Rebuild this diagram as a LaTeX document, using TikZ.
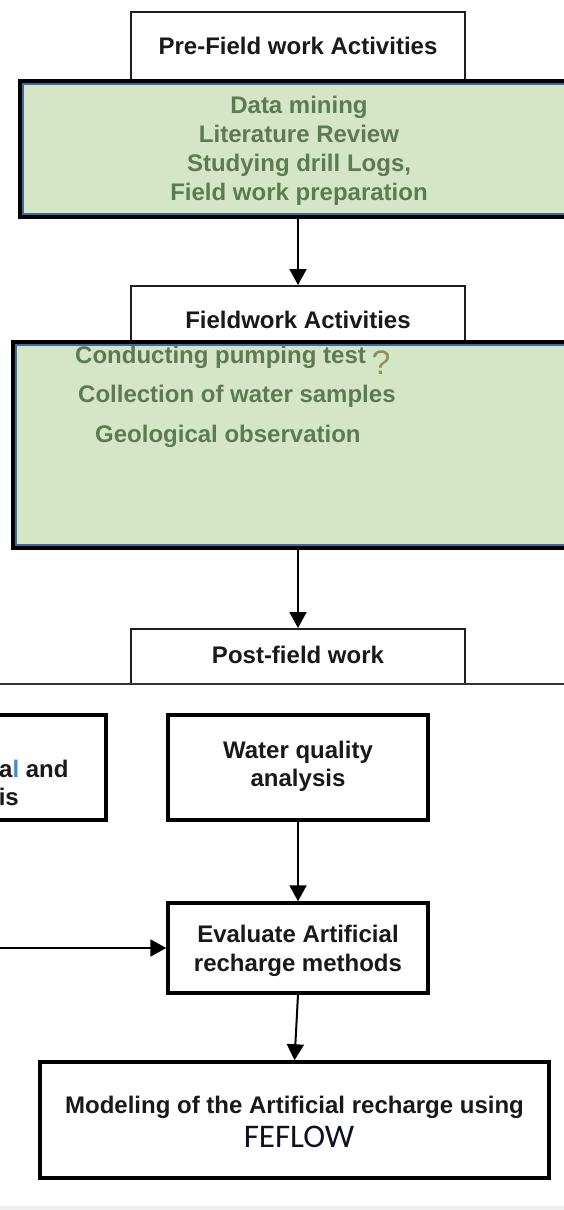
\documentclass[tikz,border=0pt]{standalone}
\usepackage{fontspec}
\setmainfont{Liberation Sans}
\newfontfamily\calibrifont{Carlito}
\usetikzlibrary{arrows.meta}
\definecolor{gfill}{HTML}{D5E6C7}
\definecolor{gtext}{HTML}{5E7A50}
\definecolor{gblue}{HTML}{3F6A9E}
\definecolor{qmark}{HTML}{8E915C}
\definecolor{cursorblue}{HTML}{3D8BD9}
\definecolor{feflowc}{HTML}{101024}
\begin{document}
\begin{tikzpicture}[x=1pt,y=-1pt,
  wbox/.style={draw=black!88, line width=2pt, fill=white, inner sep=0pt, rectangle},
  bbox/.style={draw=black, line width=3.5pt, fill=white, inner sep=0pt, rectangle},
  gbox/.style={draw=black, line width=3.5pt, fill=gfill, inner sep=0pt, rectangle},
  ginner/.style={draw=gblue, line width=2.4pt, inner sep=0pt, rectangle},
  lbl/.style={font=\fontsize{24}{28}\selectfont\bfseries, text=black!90, inner sep=0pt, anchor=base},
  glbl/.style={lbl, text=gtext},
  arr/.style={draw=black, line width=2pt, -{Triangle[width=17pt,length=16pt]}},
]
\useasboundingbox (0,0) rectangle (564,1210);
\fill[white] (0,0) rectangle (564,1210);
\fill[black!6] (0,1206) rectangle (564,1210);

% Pre-field
\node[wbox, minimum width=334pt, minimum height=70pt] (pre) at (298,47) {};
\node[lbl] (preT) at (298,54) {Pre-Field work Activities};
\node[gbox, minimum width=560pt, minimum height=136pt] (g1) at (300,149) {};
\node[ginner, minimum width=554pt, minimum height=130pt] (g1in) at (300,149) {};
\node[glbl] (g1a) at (299,113) {Data mining};
\node[glbl] (g1b) at (299,142) {Literature Review};
\node[glbl] (g1c) at (299,171) {Studying drill Logs,};
\node[glbl] (g1d) at (299,200) {Field work preparation};

% Fieldwork
\node[wbox, minimum width=334pt, minimum height=58pt] (fw) at (298,315) {};
\node[lbl] (fwT) at (298,328) {Fieldwork Activities};
\node[gbox, minimum width=567pt, minimum height=206pt] (g2) at (296.5,445) {};
\node[ginner, minimum width=561pt, minimum height=200pt] (g2in) at (296.5,445) {};
\node[glbl, anchor=base west] (g2a) at (75,363) {Conducting pumping test};
\node[font=\fontsize{34}{34}\selectfont, text=qmark, inner sep=0pt, anchor=base] (qm) at (381,374) {?};
\node[glbl, anchor=base west] (g2b) at (78,402) {Collection of water samples};
\node[glbl, anchor=base west] (g2c) at (95,442) {Geological observation};

% Post-field
\node[wbox, minimum width=334pt, minimum height=55pt] (post) at (298,656.5) {};
\node[lbl] (postT) at (298,663) {Post-field work};
\coordinate (hlL) at (0,684);
\coordinate (hlR) at (564,684);
\draw[black!80, line width=1.6pt] (hlL) -- (hlR);

% second row
\node[bbox, minimum width=126pt, minimum height=105pt] (left) at (43,767.5) {};
\node[lbl, anchor=base west] (leftA) at (-1,777) {a\textcolor{cursorblue}{l} and};
\node[lbl, anchor=base east] (leftB) at (19,805) {is};
\node[bbox, minimum width=260pt, minimum height=105pt] (wq) at (298,767.5) {};
\node[lbl] (wqA) at (298,758) {Water quality};
\node[lbl] (wqB) at (298,786) {analysis};

% Evaluate
\node[bbox, minimum width=260pt, minimum height=90pt] (ev) at (298,948) {};
\node[lbl] (evA) at (298,942) {Evaluate Artificial};
\node[lbl] (evB) at (298,971) {recharge methods};
\coordinate (la) at (0,948);

% Modeling
\node[bbox, minimum width=509pt, minimum height=116pt] (mod) at (294.5,1120) {};
\node[lbl] (modA) at (294.5,1113) {Modeling of the Artificial recharge using};
\node[font=\fontsize{33}{33}\calibrifont, text=feflowc, inner sep=0pt, anchor=base] (fef) at (299,1147) {FEFLOW};

% connectors
\draw[arr] (pre.south |- g1.south) -- (fw.north);
\draw[arr] (fw.south |- g2.south) -- (post.north);
\draw[arr] (wq.south) -- (ev.north);
\draw[arr] (la) -- (ev.west);
\draw[arr] (ev.south) -- (mod.north);
\end{tikzpicture}
\end{document}
